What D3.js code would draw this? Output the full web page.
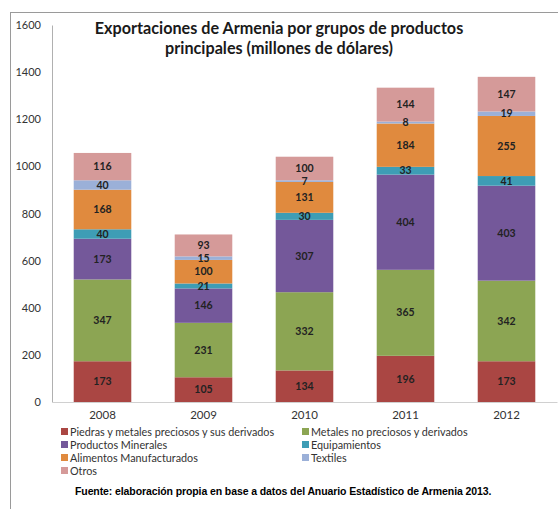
<!DOCTYPE html>
<html>
<head>
<meta charset="utf-8">
<script src="https://cdn.jsdelivr.net/npm/d3@7"></script>
<style>
  body { margin: 0; background: #fff; }
  svg { display: block; }
</style>
</head>
<body>
<div id="chart"></div>
<script>
// data
const years = ["2008", "2009", "2010", "2011", "2012"];
const groups = [
  "Piedras y metales preciosos y sus derivados",
  "Metales no preciosos y derivados",
  "Productos Minerales",
  "Equipamientos",
  "Alimentos Manufacturados",
  "Textiles",
  "Otros"
];
const piedras = [173, 105, 134, 196, 173];
const metales = [347, 231, 332, 365, 342];
const minerales = [173, 146, 307, 404, 403];
const equipamientos = [40, 21, 30, 33, 41];
const alimentos = [168, 100, 131, 184, 255];
const textiles = [40, 15, 7, 8, 19];
const otros = [116, 93, 100, 144, 147];
const yTicks = [0, 200, 400, 600, 800, 1000, 1200, 1400, 1600];

const colors = ["#AA4643", "#8CA553", "#74589A", "#3E9DB5", "#E08A3E", "#9BB0D8", "#D59A99"];

const seriesValues = [piedras, metales, minerales, equipamientos, alimentos, textiles, otros];
const rows = years.map((yr, i) => {
  const r = { year: yr };
  groups.forEach((g, k) => r[g] = seriesValues[k][i]);
  return r;
});

const width = 558, height = 509;
const svg = d3.select("#chart").append("svg")
  .attr("width", width)
  .attr("height", height)
  .style("font-family", "Lato, 'Open Sans', sans-serif");

// frame
svg.append("rect")
  .attr("x", 10.5).attr("y", 12.5)
  .attr("width", 700).attr("height", 700)
  .attr("fill", "none").attr("stroke", "#9a9a9a");

const x = d3.scaleBand()
  .domain(years)
  .range([52, 557])
  .paddingInner(0.43)
  .paddingOuter(0.215);

const y = d3.scaleLinear()
  .domain([0, 1600])
  .range([402, 25]);

// title
const title = svg.append("text")
  .attr("text-anchor", "middle")
  .attr("font-size", 16.2)
  .attr("font-weight", "bold")
  .attr("fill", "#1a1a1a");
title.append("tspan").attr("x", 279).attr("y", 34).text("Exportaciones de Armenia por grupos de productos");
title.append("tspan").attr("x", 279).attr("y", 54).text("principales (millones de dólares)");

// axes
const yAxis = svg.append("g")
  .attr("transform", "translate(52,0)")
  .call(d3.axisLeft(y).tickValues(yTicks).tickFormat(d3.format("d")).tickSize(0).tickPadding(11));
yAxis.select(".domain").attr("stroke", "#b0b0b0");
yAxis.selectAll("text").attr("font-size", 11).attr("fill", "#333").attr("font-family", "Lato, sans-serif");

const stack = d3.stack().keys(groups);
const layers = stack(rows);

svg.append("g").selectAll("g")
  .data(layers)
  .join("g")
  .attr("fill", (d, i) => colors[i])
  .selectAll("rect")
  .data(d => d)
  .join("rect")
  .attr("x", d => x(d.data.year))
  .attr("y", d => y(d[1]))
  .attr("width", x.bandwidth())
  .attr("height", d => y(d[0]) - y(d[1]));

// value labels
svg.append("g").selectAll("g")
  .data(layers)
  .join("g")
  .selectAll("text")
  .data(d => d.map(p => ({ p, key: d.key })))
  .join("text")
  .attr("x", d => x(d.p.data.year) + x.bandwidth() / 2)
  .attr("y", d => (y(d.p[0]) + y(d.p[1])) / 2)
  .attr("dy", "0.35em")
  .attr("text-anchor", "middle")
  .attr("font-size", 10.5)
  .attr("font-weight", "bold")
  .attr("fill", "#222")
  .text(d => d.p.data[d.key]);

const xAxis = svg.append("g")
  .attr("transform", "translate(0,402)")
  .call(d3.axisBottom(x).tickSize(0).tickPadding(9));
xAxis.select(".domain").attr("stroke", "#d0d0d0");
xAxis.selectAll("text").attr("font-size", 11.5).attr("fill", "#333").attr("font-family", "Lato, sans-serif");

// legend, two columns
const legend = svg.append("g").selectAll("g")
  .data(groups)
  .join("g")
  .attr("transform", (d, i) => `translate(${i % 2 === 0 ? 61 : 302},${432 + Math.floor(i / 2) * 13})`);
legend.append("rect")
  .attr("x", 0).attr("y", -4)
  .attr("width", 7).attr("height", 7)
  .attr("fill", (d, i) => colors[i]);
legend.append("text")
  .attr("x", 9).attr("y", 0)
  .attr("dy", "0.35em")
  .attr("font-size", 10.8)
  .attr("fill", "#333")
  .text(d => d);

// source note
svg.append("text")
  .attr("x", 75).attr("y", 495)
  .attr("font-family", "'Liberation Sans', Arial, sans-serif")
  .attr("font-size", 10.5)
  .attr("font-weight", "bold")
  .attr("letter-spacing", -0.1)
  .attr("fill", "#000")
  .text("Fuente: elaboración propia en base a datos del Anuario Estadístico de Armenia  2013.");
</script>
</body>
</html>
